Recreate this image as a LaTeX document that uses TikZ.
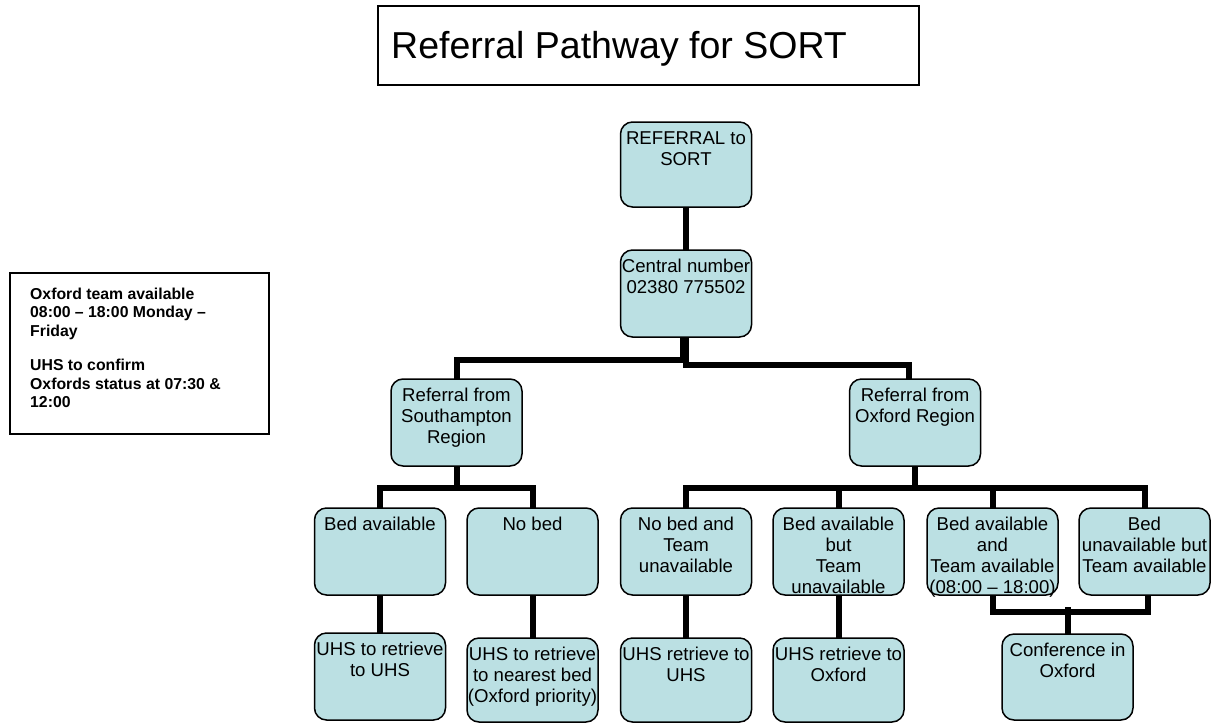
\documentclass[tikz,border=0pt]{standalone}
\usepackage{fontspec}
\setmainfont{Liberation Sans}
\usetikzlibrary{backgrounds}
\definecolor{boxfill}{RGB}{187,224,227}
\newcommand{\bt}[2][87pt]{\parbox[c][#1][t]{131pt}{\centering\rule{0pt}{22.5pt}#2}}
\begin{document}
\begin{tikzpicture}[x=1pt,y=-1pt,
  box/.style={draw=black, line width=1.5pt, fill=boxfill, rounded corners=12pt, inner sep=0pt, font=\fontsize{18.6}{21}\selectfont},
  conn/.style={line width=6pt, line cap=rect, line join=miter},
  plainbox/.style={draw=black, line width=2pt, inner sep=0pt, anchor=north west}
]
\useasboundingbox (0,0) rectangle (1212,723);

\node[plainbox, minimum width=541pt, minimum height=79pt] (title) at (377,5) {};
\node[anchor=base west, inner sep=0pt, font=\fontsize{37.5}{40}\selectfont] (titletext) at (391,58) {Referral Pathway for SORT};

\node[plainbox, minimum width=259pt, minimum height=161pt] (note) at (9,272) {};
\node[anchor=north west, inner sep=0pt, align=left, font=\fontsize{15.8}{18.5}\selectfont\bfseries] (notetext) at (30,287.5)
  {Oxford team available\\08:00 – 18:00 Monday –\\Friday\\[16pt]UHS to confirm\\Oxfords status at 07:30 \&\\12:00};

\node[box] (ref) at (686,164.5) {\bt[85pt]{REFERRAL to\\SORT}};
\node[box] (cen) at (686,293.5) {\bt{Central number\\02380 775502}};
\node[box] (sou) at (456.5,422.5) {\bt{Referral from\\Southampton\\Region}};
\node[box] (oxf) at (915,422.5) {\bt{Referral from\\Oxford Region}};
\node[box] (bed) at (380,551.5) {\bt{Bed available}};
\node[box] (nob) at (532.5,551.5) {\bt{No bed}};
\node[box] (o1) at (686,551.5) {\bt{No bed and\\Team\\unavailable}};
\node[box] (o2) at (838.5,551.5) {\bt{Bed available\\but\\Team\\unavailable}};
\node[box] (o3) at (992.5,551.5) {\bt{Bed available\\and\\Team available\\(08:00 – 18:00)}};
\node[box] (o4) at (1144.5,551.5) {\bt{Bed\\unavailable but\\Team available}};
\node[box] (r1) at (380,676.5) {\bt{UHS to retrieve\\to UHS}};
\node[box] (r2) at (532.5,680) {\bt[84pt]{UHS to retrieve\\to nearest bed\\(Oxford priority)}};
\node[box] (r3) at (686,680) {\bt[84pt]{UHS retrieve to\\UHS}};
\node[box] (r4) at (838.5,680) {\bt[84pt]{UHS retrieve to\\Oxford}};
\node[box] (conf) at (1067.5,677) {\bt[86pt]{Conference in\\Oxford}};

\begin{pgfonlayer}{background}
\draw[conn] (ref.south) -- (cen.north);
\draw[conn] ([xshift=-3pt]cen.south) -- ++(0,22) -| (sou.north);
\draw[conn] (cen.south) -- ++(0,27) -| ([xshift=-6pt]oxf.north);
\draw[conn] (oxf.south) -- ++(0,21) coordinate (ob);
\draw[conn] (o1.north) |- (ob) -| (o4.north);
\draw[conn] (o2.north) -- (o2.north |- ob);
\draw[conn] (o3.north) -- (o3.north |- ob);
\draw[conn] (sou.south) -- ++(0,21) coordinate (sb);
\draw[conn] (bed.north) |- (sb) -| (nob.north);
\draw[conn] (bed.south) -- (r1.north);
\draw[conn] (nob.south) -- (r2.north);
\draw[conn] (o1.south) -- (r3.north);
\draw[conn] (o2.south) -- (r4.north);
\draw[conn] (o3.south) -- ++(0,16) -| ([xshift=3pt]o4.south);
\draw[conn] (conf.north) -- ++(0,-23);
\end{pgfonlayer}
\end{tikzpicture}
\end{document}
